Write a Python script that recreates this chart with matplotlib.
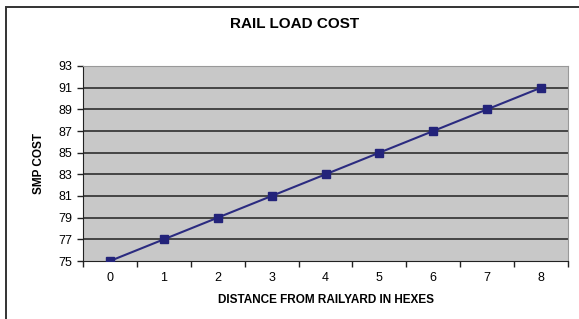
import matplotlib.pyplot as plt
from matplotlib.patches import Rectangle

plt.rcParams['font.family'] = ['Liberation Sans', 'DejaVu Sans']

distance = [0, 1, 2, 3, 4, 5, 6, 7, 8]
smp_cost = [75, 77, 79, 81, 83, 85, 87, 89, 91]
y_ticks = [75, 77, 79, 81, 83, 85, 87, 89, 91, 93]

W, H = 579, 319
fig = plt.figure(figsize=(W / 100, H / 100), dpi=100)

# outer chart border (runs off the right and bottom edges)
fig.patches.append(Rectangle((6 / W, -0.05), 1.1, 1 - 7 / H + 0.05,
                             transform=fig.transFigure, fill=False,
                             edgecolor='#333333', linewidth=1.4))

ax = fig.add_axes([83 / W, 1 - 261 / H, (568 - 83) / W, (261 - 66) / H])
ax.set_facecolor('#c8c8c8')

ax.plot(distance, smp_cost, color='#2b2b80', linewidth=1.5,
        marker='s', markersize=6, markerfacecolor='#23237a',
        markeredgecolor='#23237a', zorder=3)

ax.set_xlim(-0.5, 8.5)
ax.set_ylim(75, 93)
ax.set_yticks(y_ticks)
ax.set_xticks(distance)
ax.set_xticks([d - 0.5 for d in distance] + [8.5], minor=True)
ax.tick_params(axis='x', which='major', length=0, pad=8, labelsize=9)
ax.tick_params(axis='x', which='minor', length=4, width=1, color='#222222')
ax.tick_params(axis='y', length=4, width=1, color='#222222', labelsize=9, pad=4)

for v in y_ticks[1:-1]:
    ax.axhline(v, color='#222222', linewidth=1.1, zorder=1)

ax.spines['left'].set_color('#222222')
ax.spines['bottom'].set_color('#222222')
ax.spines['top'].set_color('#999999')
ax.spines['right'].set_color('#999999')

ax.set_xlabel('DISTANCE FROM RAILYARD IN HEXES', fontsize=8.5, fontweight='bold', labelpad=7)
ax.set_ylabel('SMP COST', fontsize=8.5, fontweight='bold', labelpad=9)
fig.text(295 / W, 1 - 24 / H, 'RAIL LOAD COST', fontsize=11, fontweight='bold',
         ha='center', va='center')

fig.savefig('out.png', dpi=100)
